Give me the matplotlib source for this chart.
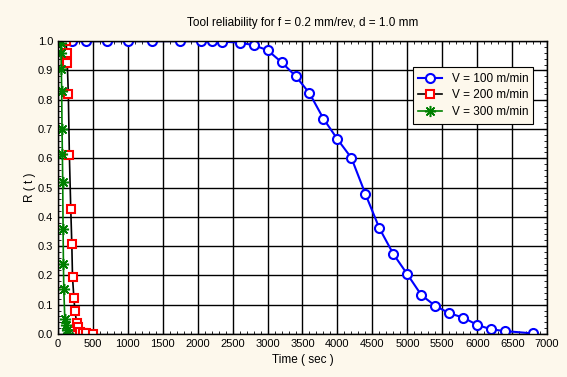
import matplotlib.pyplot as plt
from matplotlib.ticker import MultipleLocator

plt.rcParams['font.family'] = ['Liberation Sans', 'DejaVu Sans']

# V = 100 m/min
t100 = [200, 400, 700, 1000, 1350, 1750, 2050, 2200, 2350, 2600, 2800, 3000,
        3200, 3400, 3600, 3800, 4000, 4200, 4400, 4600, 4800, 5000, 5200,
        5400, 5600, 5800, 6000, 6200, 6400, 6800]
r100 = [1.0, 1.0, 1.0, 1.0, 1.0, 1.0, 1.0, 1.0, 0.998, 0.995, 0.986, 0.969,
        0.928, 0.881, 0.822, 0.735, 0.665, 0.601, 0.478, 0.361, 0.273, 0.204,
        0.133, 0.096, 0.071, 0.056, 0.031, 0.016, 0.010, 0.002]

# V = 200 m/min
t200 = [120, 125, 135, 150, 165, 185, 200, 210, 230, 245, 270, 285, 320,
        360, 410, 500]
r200 = [1.0, 0.96, 0.925, 0.82, 0.61, 0.426, 0.307, 0.194, 0.122, 0.078,
        0.037, 0.025, 0.008, 0.005, 0.002, 0.001]

# V = 300 m/min
t300 = [40, 45, 50, 55, 60, 65, 70, 75, 80, 85, 100, 110, 130, 150]
r300 = [0.995, 0.96, 0.905, 0.83, 0.70, 0.615, 0.52, 0.36, 0.24, 0.155,
        0.05, 0.03, 0.015, 0.005]

bg = '#fdf8ec'
fig = plt.figure(figsize=(5.67, 3.77), dpi=100, facecolor=bg)
ax = fig.add_axes([0.102, 0.114, 0.863, 0.777])
ax.set_facecolor('white')

ax.plot(t100, r100, color='blue', lw=1.5, marker='o', ms=6.5, mfc='white',
        mec='blue', mew=1.5, label='V = 100 m/min', zorder=3)
ax.plot(t200, r200, color='black', lw=1.2, marker='s', ms=6, mfc='white',
        mec='red', mew=1.5, label='V = 200 m/min', zorder=4)
ax.plot(t300, r300, color='green', lw=1.2, marker=(8, 2, 0), ms=8,
        mec='green', mew=1.1, label='V = 300 m/min', zorder=5)

ax.set_xlim(0, 7000)
ax.set_ylim(0, 1.0)
ax.xaxis.set_major_locator(MultipleLocator(500))
ax.xaxis.set_minor_locator(MultipleLocator(100))
ax.yaxis.set_major_locator(MultipleLocator(0.1))
ax.yaxis.set_minor_locator(MultipleLocator(0.02))
ax.set_yticklabels([f'{v:.1f}' for v in ax.get_yticks()])
ax.tick_params(which='both', direction='in', top=True, right=True,
               labelsize=8, length=3)
ax.tick_params(which='minor', length=2)
ax.grid(True, which='major', color='black', lw=1.0)
for s in ax.spines.values():
    s.set_linewidth(1.0)
    s.set_zorder(6)

ax.set_title('Tool reliability for f = 0.2 mm/rev, d = 1.0 mm', fontsize=8.5,
             pad=11)
ax.set_xlabel('Time ( sec )', fontsize=8.5)
ax.set_ylabel('R ( t )', fontsize=8.5, labelpad=1)

leg = ax.legend(loc='upper right', bbox_to_anchor=(0.972, 0.91),
                fontsize=8.5, fancybox=False, framealpha=1, facecolor=bg,
                edgecolor='black', handlelength=2.0, borderpad=0.45,
                labelspacing=0.4, borderaxespad=0)
leg.get_frame().set_linewidth(0.8)

fig.savefig('out.png', dpi=100, facecolor=bg)
